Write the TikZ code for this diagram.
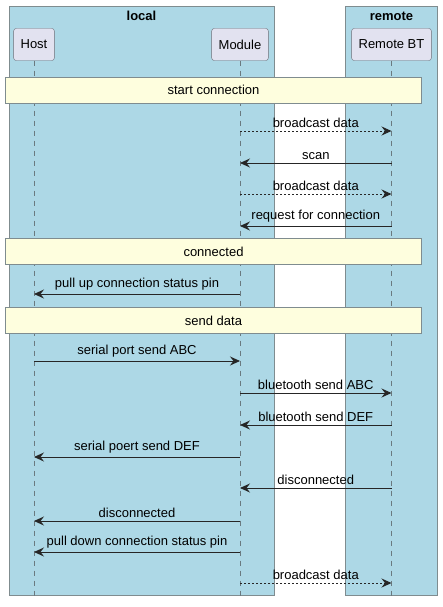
\documentclass[tikz,border=0pt]{standalone}
\usepackage{fontspec}
\setmainfont{Liberation Sans}
\usetikzlibrary{arrows.meta,positioning}

\definecolor{groupblue}{HTML}{ADD8E6}
\definecolor{groupline}{HTML}{7F8C8F}
\definecolor{partfill}{HTML}{E2E2F0}
\definecolor{partline}{HTML}{6E6E78}
\definecolor{notefill}{HTML}{FEFEDE}
\definecolor{lifegray}{HTML}{6A7A80}

\begin{document}
\begin{tikzpicture}[
  x=1pt, y=-1pt,
  >={Stealth[length=10pt,width=9pt,inset=3.5pt]},
  txt/.style={font=\fontsize{13}{15}\selectfont},
  group/.style={draw=groupline, fill=groupblue},
  grouptitle/.style={txt, font=\fontsize{13}{15}\selectfont\bfseries},
  part/.style={txt, draw=partline, fill=partfill, rounded corners=2.5pt, inner xsep=7pt, minimum height=32pt},
  life/.style={draw=lifegray, dash pattern=on 5pt off 5pt},
  divider/.style={txt, draw=groupline, fill=notefill, minimum width=416pt, minimum height=26pt},
  msg/.style={->, line width=0.9pt, black!85},
  reply/.style={msg, dash pattern=on 2pt off 2pt},
  lbl/.style={txt, above=1pt, inner sep=2pt, text=black}
]
  \useasboundingbox (0,0) rectangle (443,607);

  % groups
  \draw[group] (9,6) rectangle (274,595);
  \draw[group] (345,6) rectangle (437.5,595);
  \node[grouptitle] (localtitle) at (141.5,16) {local};
  \node[grouptitle] (remotetitle) at (391.5,16) {remote};

  % participants
  \node[part] (host) at (34,44.5) {Host};
  \node[part] (module) at (240,44.5) {Module};
  \node[part] (remote) at (391.5,44.5) {Remote BT};

  % lifelines
  \coordinate (bottom) at (0,600);
  \draw[life] (host.south) -- (host |- bottom);
  \draw[life] (module.south) -- (module |- bottom);
  \draw[life] (remote.south) -- (remote |- bottom);

  % dividers
  \node[divider] (start) at (213.5,90) {start connection};
  \node[divider] (connected) at (213.5,251.5) {connected};
  \node[divider] (senddata) at (213.5,320.5) {send data};

  % messages
  \foreach \y [count=\i] in {131,163,194,226,294,361,393,425,457,488,521,552,583}
    \coordinate (m\i) at (0,\y);

  \draw[reply] (module |- m1) -- node[lbl] {broadcast data} (remote |- m1);
  \draw[msg] (remote |- m2) -- node[lbl] {scan} (module |- m2);
  \draw[reply] (module |- m3) -- node[lbl] {broadcast data} (remote |- m3);
  \draw[msg] (remote |- m4) -- node[lbl] {request for connection} (module |- m4);
  \draw[msg] (module |- m5) -- node[lbl] {pull up connection status pin} (host |- m5);
  \draw[msg] (host |- m6) -- node[lbl] {serial port send ABC} (module |- m6);
  \draw[msg] (module |- m7) -- node[lbl] {bluetooth send ABC} (remote |- m7);
  \draw[msg] (remote |- m8) -- node[lbl] {bluetooth send DEF} (module |- m8);
  \draw[msg] (module |- m9) -- node[lbl] {serial poert send DEF} (host |- m9);
  \draw[msg] (remote |- m10) -- node[lbl] {disconnected} (module |- m10);
  \draw[msg] (module |- m11) -- node[lbl] {disconnected} (host |- m11);
  \draw[msg] (module |- m12) -- node[lbl] {pull down connection status pin} (host |- m12);
  \draw[reply] (module |- m13) -- node[lbl] {broadcast data} (remote |- m13);
\end{tikzpicture}
\end{document}
